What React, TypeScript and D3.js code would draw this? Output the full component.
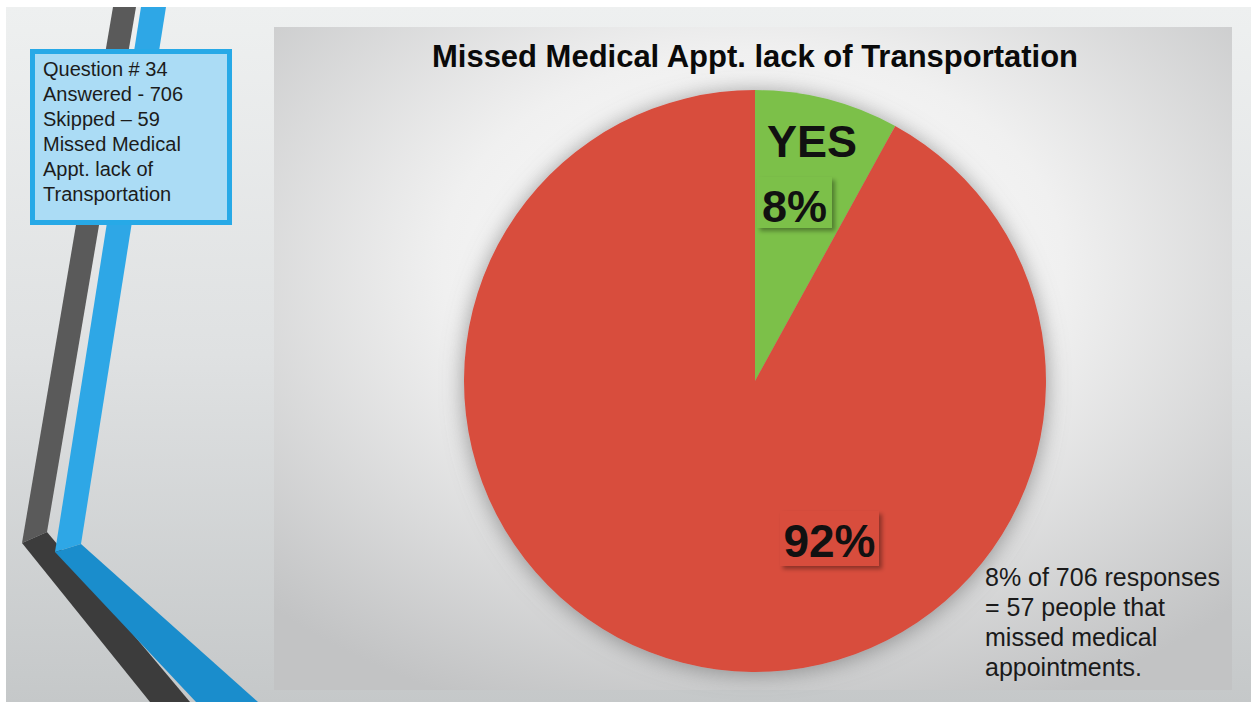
import React from "react";
import * as d3 from "d3";

const categories = ["YES", "NO"];
const values = [8, 92];
const labels = ["8%", "92%"];
const sliceColors = ["#7cc04a", "#d84d3d"];
const title = "Missed Medical Appt. lack of Transportation";
const infoLines = ["Question # 34", "Answered - 706", "Skipped \u2013 59", "Missed Medical", "Appt. lack of", "Transportation"];
const noteLines = ["8% of 706 responses", "= 57 people that", "missed medical", "appointments."];

const W = 1251;
const H = 702;
const cx = 755;
const cy = 381;
const R = 291;

export default function App() {
  const pie = d3.pie<number>().sort(null).value((d) => d).startAngle(0).endAngle(2 * Math.PI);
  const arcs = pie(values);
  const arc = d3.arc<d3.PieArcDatum<number>>().innerRadius(0).outerRadius(R);
  const line = d3.line();

  const yesBox = { x: 757, y: 177, w: 75, h: 51 };
  const noBox = { x: 780, y: 511, w: 99, h: 55 };

  return (
    <svg width={W} height={H} style={{ position: "absolute", left: 0, top: 0, display: "block" }}
      fontFamily="'Liberation Sans', Arial, sans-serif">
      <defs>
        <linearGradient id="bg" x1="0" y1="0" x2="0" y2="1">
          <stop offset="0" stopColor="#eef0f0" />
          <stop offset="0.5" stopColor="#dfe1e2" />
          <stop offset="1" stopColor="#c5c8c9" />
        </linearGradient>
        <radialGradient id="panel" cx="0.5" cy="0.36" r="0.72">
          <stop offset="0" stopColor="#fefefe" />
          <stop offset="0.45" stopColor="#f0f0f0" />
          <stop offset="1" stopColor="#c2c3c4" />
        </radialGradient>
        <filter id="pieShadow" x="-20%" y="-20%" width="140%" height="140%">
          <feDropShadow dx="0" dy="2" stdDeviation="11" floodColor="#6e6e6e" floodOpacity="0.7" />
        </filter>
        <filter id="boxShadow" x="-20%" y="-20%" width="150%" height="150%">
          <feDropShadow dx="3" dy="3" stdDeviation="2" floodColor="#000" floodOpacity="0.35" />
        </filter>
      </defs>

      <rect x={0} y={0} width={W} height={H} fill="#ffffff" />
      <rect x={6} y={7} width={W - 6} height={H - 7} fill="url(#bg)" />

      {/* decorative stripes */}
      <path d={line([[113, 7], [136, 7], [47, 532], [22, 543]])! + "Z"} fill="#5a5a5a" />
      <path d={line([[22, 543], [47, 532], [190, 702], [150, 702]])! + "Z"} fill="#3c3c3c" />
      <path d={line([[141, 7], [166, 7], [81, 544], [55, 552]])! + "Z"} fill="#2ea7e6" />
      <path d={line([[55, 552], [81, 544], [258, 702], [196, 702]])! + "Z"} fill="#1a8dcc" />

      {/* chart panel */}
      <rect x={274} y={27} width={958} height={663} fill="url(#panel)" />

      {/* info box */}
      <rect x={32.5} y={51.5} width={197} height={171} fill="#abdcf5" stroke="#27a9e7" strokeWidth={5} />
      {infoLines.map((t, i) => (
        <text key={t} x={43} y={76 + i * 25} fontSize={20} fill="#1c1c1c">{t}</text>
      ))}

      {/* title */}
      <text x={cx} y={67} textAnchor="middle" fontSize={31} fontWeight="bold" fill="#0a0a0a"
        fontFamily="'Liberation Sans Narrow', 'Arial Narrow', 'Liberation Sans', Arial, sans-serif"
        textLength={646} lengthAdjust="spacingAndGlyphs">{title}</text>

      {/* pie */}
      <g transform={`translate(${cx},${cy})`} filter="url(#pieShadow)">
        {arcs.map((a, i) => (
          <path key={categories[i]} d={arc(a)!} fill={sliceColors[i]} />
        ))}
      </g>

      {/* labels */}
      <text x={812} y={157} textAnchor="middle" fontSize={45} fontWeight="bold" fill="#111">{categories[0]}</text>
      <rect x={yesBox.x} y={yesBox.y} width={yesBox.w} height={yesBox.h} fill={sliceColors[0]} filter="url(#boxShadow)" />
      <text x={yesBox.x + yesBox.w / 2} y={222} textAnchor="middle" fontSize={45} fontWeight="bold" fill="#111">{labels[0]}</text>
      <rect x={noBox.x} y={noBox.y} width={noBox.w} height={noBox.h} fill={sliceColors[1]} filter="url(#boxShadow)" />
      <text x={noBox.x + noBox.w / 2} y={557} textAnchor="middle" fontSize={46} fontWeight="bold" fill="#111">{labels[1]}</text>

      {/* note */}
      {noteLines.map((t, i) => (
        <text key={t} x={985} y={586 + i * 30} fontSize={25} fill="#1a1a1a">{t}</text>
      ))}
    </svg>
  );
}
